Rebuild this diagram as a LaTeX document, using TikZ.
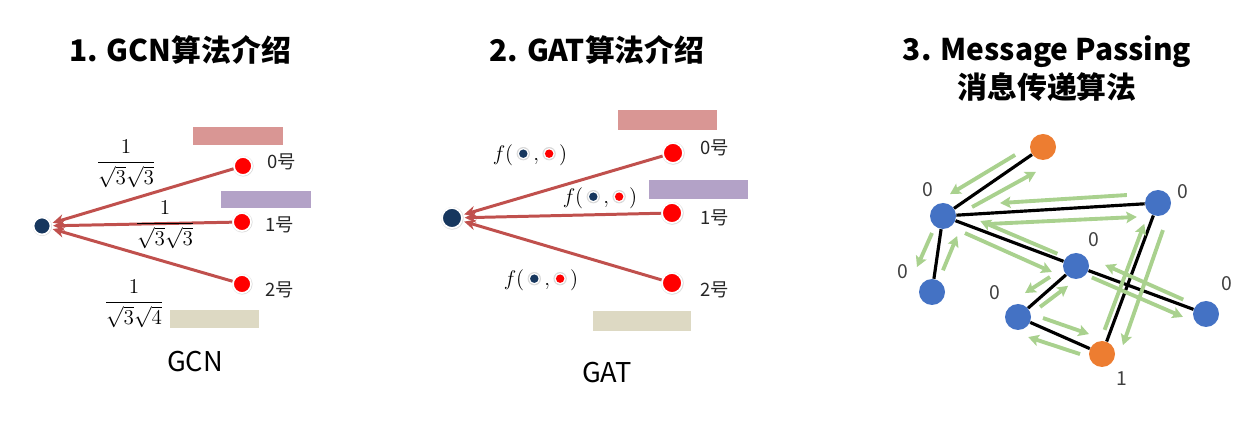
\documentclass[tikz,border=0pt]{standalone}
\usepackage{fontspec}
\setmainfont{Noto Sans CJK SC}
\usepackage{amsmath}
\usepackage{tikz}
\usetikzlibrary{arrows.meta,calc,shadows}

\definecolor{hubblue}{HTML}{17375E}
\definecolor{edgered}{HTML}{C0504D}
\definecolor{barpink}{HTML}{D99694}
\definecolor{barpurple}{HTML}{B3A2C7}
\definecolor{barbeige}{HTML}{DDD9C3}
\definecolor{mpblue}{HTML}{4472C4}
\definecolor{mporange}{HTML}{ED7D31}
\definecolor{mpgreen}{HTML}{A9D18E}
\definecolor{labelgray}{HTML}{404040}

\newcommand{\fdot}[1]{\tikz[baseline=-0.6ex]{\fill[black!15] (0,0) circle (3.8pt); \fill[white] (0,0) circle (3.2pt); \fill[#1] (0,0) circle (2.4pt);}}

\begin{document}
\begin{tikzpicture}[x=0.02cm, y=-0.02cm,
    heading/.style={font=\fontsize{17}{21.6}\selectfont\bfseries, align=center},
    hub/.style={circle, fill=hubblue, draw=white, line width=1pt, inner sep=0pt, minimum size=0.34cm,
      circular drop shadow={shadow xshift=0pt, shadow yshift=0pt, shadow scale=1.2, opacity=0.35}},
    nbr/.style={hub, fill=red, minimum size=0.36cm},
    nbrlab/.style={font=\fontsize{10.5}{12}\selectfont, text=black!85},
    msg/.style={draw=edgered, line width=1.7pt, shorten >=1pt, -{Stealth[length=6.5pt,width=6pt]}},
    weight/.style={font=\fontsize{11.5}{14}\selectfont},
    caption/.style={font=\fontsize{15.5}{18}\selectfont},
    gnode/.style={circle, fill=mpblue, inner sep=0pt, minimum size=0.52cm},
    onode/.style={gnode, fill=mporange},
    link/.style={line width=1.8pt},
    pass/.style={draw=mpgreen, line width=2.2pt, -{Stealth[length=6pt,width=6.5pt,inset=1.2pt]}},
    numlab/.style={text=labelgray, font=\fontsize{11}{12}\selectfont}]
    \useasboundingbox (0,0) rectangle (1258,421);

    % titles
    \node[heading] (t1) at (180,50) {1. GCN算法介绍};
    \node[heading] (t2) at (597,50) {2. GAT算法介绍};
    \node[heading] (t3) at (1047,69) {3. Message Passing\\消息传递算法};

    % GCN
    \fill[barpink] (193,127) rectangle (283,145);
    \fill[barpurple] (221,191) rectangle (311,208);
    \fill[barbeige] (170,310) rectangle (259,328);
    \node[hub] (ghub) at (42,226) {};
    \node[nbr] (g0) at (243,166) {};
    \node[nbr] (g1) at (242,222) {};
    \node[nbr] (g2) at (242,284) {};
    \node[nbrlab] (g0l) at (282,162) {0号};
    \node[nbrlab] (g1l) at (280,225) {1号};
    \node[nbrlab] (g2l) at (280,290) {2号};
    \draw [msg] (g0) to (ghub);
    \draw [msg] (g1) to (ghub);
    \draw [msg] (g2) to (ghub);
    \node[weight] (gw0) at (126,164) {$\dfrac{1}{\sqrt{3}\sqrt{3}}$};
    \node[weight] (gw1) at (165,225) {$\dfrac{1}{\sqrt{3}\sqrt{3}}$};
    \node[weight] (gw2) at (134,304) {$\dfrac{1}{\sqrt{3}\sqrt{4}}$};
    \node[caption] (gcn) at (195,362) {GCN};

    % GAT
    \fill[barpink] (618,110) rectangle (717,130);
    \fill[barpurple] (649,180) rectangle (748,199);
    \fill[barbeige] (593,311) rectangle (691,331);
    \node[hub, minimum size=0.4cm] (ahub) at (452,218) {};
    \node[nbr, minimum size=0.4cm] (a0) at (673,153) {};
    \node[nbr, minimum size=0.4cm] (a1) at (672,213) {};
    \node[nbr, minimum size=0.4cm] (a2) at (672,283) {};
    \node[nbrlab] (a0l) at (715,148) {0号};
    \node[nbrlab] (a1l) at (715,218) {1号};
    \node[nbrlab] (a2l) at (715,290) {2号};
    \draw [msg] (a0) to (ahub);
    \draw [msg] (a1) to (ahub);
    \draw [msg] (a2) to (ahub);
    \node[weight] (aw0) at (530,155) {$f($\,\fdot{hubblue}\,$,$\,\fdot{red}\,$)$};
    \node[weight] (aw1) at (600,198) {$f($\,\fdot{hubblue}\,$,$\,\fdot{red}\,$)$};
    \node[weight] (aw2) at (541,280) {$f($\,\fdot{hubblue}\,$,$\,\fdot{red}\,$)$};
    \node[caption] (gat) at (607,373) {GAT};

    % message passing
    \node[onode] (o1) at (1043,147) {};
    \node[gnode] (na) at (943,216) {};
    \node[gnode] (nb) at (932,292) {};
    \node[gnode] (nc) at (1158,203) {};
    \node[gnode] (nd) at (1076,266) {};
    \node[gnode] (ne) at (1018,317) {};
    \node[gnode] (nf) at (1206,314) {};
    \node[onode] (o2) at (1102,354) {};
    \draw [link] (o1) -- (na);
    \draw [link] (na) -- (nb);
    \draw [link] (na) -- (nc);
    \draw [link] (na) -- (nd);
    \draw [link] (nd) -- (nf);
    \draw [link] (nd) -- (ne);
    \draw [link] (ne) -- (o2);
    \draw [link] (nc) -- (o2);
    \draw [pass] ($(o1)!.226!(na)!5.3pt!-90:(na)$) -- ($(o1)!.85!(na)!8pt!-90:(na)$);
    \draw [pass] ($(na)!.239!(o1)!5.2pt!-90:(o1)$) -- ($(na)!.835!(o1)!9.4pt!-90:(o1)$);
    \draw [pass] ($(nc)!.142!(na)!5.6pt!-90:(na)$) -- ($(nc)!.732!(na)!5.4pt!-90:(na)$);
    \draw [pass] ($(na)!.215!(nc)!6.1pt!-90:(nc)$) -- ($(na)!.898!(nc)!7.2pt!-90:(nc)$);
    \draw [pass] ($(na)!.24!(nb)!4.8pt!-90:(nb)$) -- ($(na)!.706!(nb)!10.5pt!-90:(nb)$);
    \draw [pass] ($(nb)!.30!(na)!4.4pt!-90:(na)$) -- ($(nb)!.768!(na)!9.6pt!-90:(na)$);
    \draw [pass] ($(nd)!.153!(na)!2.8pt!-90:(na)$) -- ($(nd)!.742!(na)!4.8pt!-90:(na)$);
    \draw [pass] ($(na)!.187!(nd)!4.7pt!-90:(nd)$) -- ($(na)!.856!(nd)!8pt!-90:(nd)$);
    \draw [pass] ($(nf)!.19!(nd)!3.2pt!-90:(nd)$) -- ($(nf)!.806!(nd)!6.3pt!-90:(nd)$);
    \draw [pass] ($(nd)!.136!(nf)!3pt!-90:(nf)$) -- ($(nd)!.851!(nf)!6.1pt!-90:(nf)$);
    \draw [pass] ($(nd)!.347!(ne)!5.1pt!-90:(ne)$) -- ($(nd)!.727!(ne)!7.6pt!-90:(ne)$);
    \draw [pass] ($(ne)!.30!(nd)!4pt!-90:(nd)$) -- ($(ne)!.753!(nd)!5.5pt!-90:(nd)$);
    \draw [pass] ($(ne)!.254!(o2)!5.2pt!90:(o2)$) -- ($(ne)!.783!(o2)!7.4pt!90:(o2)$);
    \draw [pass] ($(o2)!.219!(ne)!5.1pt!90:(ne)$) -- ($(o2)!.81!(ne)!8.1pt!90:(ne)$);
    \draw [pass] ($(o2)!.146!(nc)!3.4pt!90:(nc)$) -- ($(o2)!.849!(nc)!3.2pt!90:(nc)$);
    \draw [pass] ($(nc)!.147!(o2)!8pt!90:(o2)$) -- ($(nc)!.903!(o2)!9.4pt!90:(o2)$);
    \node[numlab] (la) at (928,190) {0};
    \node[numlab] (lb) at (903,272) {0};
    \node[numlab] (lc) at (1183,192) {0};
    \node[numlab] (ld) at (1094,240) {0};
    \node[numlab] (le) at (995,293) {0};
    \node[numlab] (lf) at (1227,284) {0};
    \node[numlab] (lo2) at (1122,379) {1};
  \end{tikzpicture}
\end{document}
